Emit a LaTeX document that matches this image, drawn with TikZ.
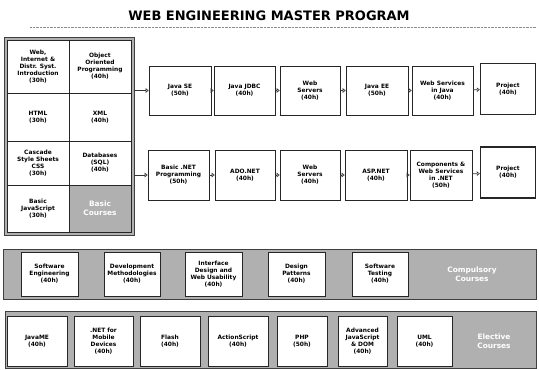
\documentclass[tikz,border=0pt]{standalone}
\usepackage{fontspec}
\setsansfont{DejaVu Sans}
\usetikzlibrary{arrows.meta}

\begin{document}
\begin{tikzpicture}[x=1pt,y=-1pt,font=\sffamily\bfseries\fontsize{5.9}{7}\selectfont,
  course/.style={draw=black!85,fill=white,align=center,inner sep=0pt,line width=.6pt},
  sz/.style 2 args={minimum width=#1pt,minimum height=#2pt},
  band/.style={draw=black!75,fill=gray!62,line width=.6pt,inner sep=0pt},
  grouplbl/.style={draw=black!85,fill=gray!62,text=white,align=center,inner sep=0pt,
    font=\sffamily\bfseries\fontsize{7.4}{8.8}\selectfont},
  project/.style={course,line width=1.4pt},
  flow/.style={-{Triangle[open,length=3pt,width=4.5pt]},black!80,line width=.6pt}]
\useasboundingbox (0,0) rectangle (539,370);
\node[font=\sffamily\bfseries\fontsize{13}{15}\selectfont] (title) at (269,16) {WEB ENGINEERING MASTER PROGRAM};
\draw[black!45,densely dotted] (30,27) -- (536,27);
% basic courses
\node[band,sz={130}{198}] (basic) at (69,136) {};
\node[course,sz={62}{53}] (webintro) at (38,66.5) {Web,\\Internet \&\\Distr. Syst.\\Introduction\\(30h)};
\node[course,sz={62}{53}] (oop) at (100,66.5) {Object\\Oriented\\Programming\\(40h)};
\node[course,sz={62}{48}] (html) at (38,117) {HTML\\(30h)};
\node[course,sz={62}{48}] (xml) at (100,117) {XML\\(40h)};
\node[course,sz={62}{44}] (css) at (38,163) {Cascade\\Style Sheets\\CSS\\(30h)};
\node[course,sz={62}{44}] (sql) at (100,163) {Databases\\(SQL)\\(40h)};
\node[course,sz={62}{47}] (basicjs) at (38,208.5) {Basic\\JavaScript\\(30h)};
\node[grouplbl,sz={62}{47}] (basiclbl) at (100,208.5) {Basic\\Courses};
% java track
\node[course,sz={62}{49}] (javase) at (180,90.5) {Java SE\\(50h)};
\node[course,sz={61}{49}] (jdbc) at (244.5,90.5) {Java JDBC\\(40h)};
\node[course,sz={60}{49}] (websrva) at (310,90.5) {Web\\Servers\\(40h)};
\node[course,sz={62}{49}] (javaee) at (377,90.5) {Java EE\\(50h)};
\node[course,sz={61}{49}] (wsjava) at (442.5,90.5) {Web Services\\in Java\\(40h)};
\node[project,sz={55}{51}] (proja) at (508,89) {Project\\(40h)};
% .net track
\node[course,sz={61}{50}] (basicnet) at (178.5,175) {Basic .NET\\Programming\\(50h)};
\node[course,sz={60}{50}] (adonet) at (245,175) {ADO.NET\\(40h)};
\node[course,sz={60}{50}] (websrvb) at (310,175) {Web\\Servers\\(40h)};
\node[course,sz={62}{50}] (aspnet) at (376,175) {ASP.NET\\(40h)};
\node[course,sz={62}{50}] (compnet) at (441,175) {Components \&\\Web Services\\in .NET\\(50h)};
\node[project,sz={55}{51}] (projb) at (508,172.5) {Project\\(40h)};
\draw[flow] (basic.east |- javase) -- (javase);
\draw[flow] (basic.east |- basicnet) -- (basicnet);
\foreach \a/\b in {javase/jdbc,jdbc/websrva,websrva/javaee,javaee/wsjava,wsjava/proja,
  basicnet/adonet,adonet/websrvb,websrvb/aspnet,aspnet/compnet,compnet/projb}
  \draw[flow] (\a) -- (\b);
% compulsory courses
\node[band,sz={533}{50}] (compband) at (269.5,274) {};
\node[course,sz={57}{44}] (softeng) at (49.5,274) {Software\\Engineering\\(40h)};
\node[course,sz={56}{44}] (devmeth) at (132,274) {Development\\Methodologies\\(40h)};
\node[course,sz={57}{44}] (iface) at (213.5,274) {Interface\\Design and\\Web Usability\\(40h)};
\node[course,sz={57}{44}] (despat) at (296.5,274) {Design\\Patterns\\(40h)};
\node[course,sz={56}{44}] (softtest) at (380,274) {Software\\Testing\\(40h)};
\node[grouplbl,draw=none,fill=none] (complbl) at (472,274) {Compulsory\\Courses};
% elective courses
\node[band,sz={531}{57}] (elecband) at (270.5,339.5) {};
\node[course,sz={60}{50}] (javame) at (37,341) {JavaME\\(40h)};
\node[course,sz={59}{50}] (netmob) at (103.5,341) {.NET for\\Mobile\\Devices\\(40h)};
\node[course,sz={60}{50}] (flash) at (170,341) {Flash\\(40h)};
\node[course,sz={60}{50}] (actscript) at (238,341) {ActionScript\\(40h)};
\node[course,sz={50}{50}] (php) at (302,341) {PHP\\(50h)};
\node[course,sz={49}{50}] (advjs) at (362.5,341) {Advanced\\JavaScript\\\& DOM\\(40h)};
\node[course,sz={55}{50}] (uml) at (424.5,341) {UML\\(40h)};
\node[grouplbl,draw=none,fill=none] (eleclbl) at (494,341) {Elective\\Courses};
\end{tikzpicture}
\end{document}
